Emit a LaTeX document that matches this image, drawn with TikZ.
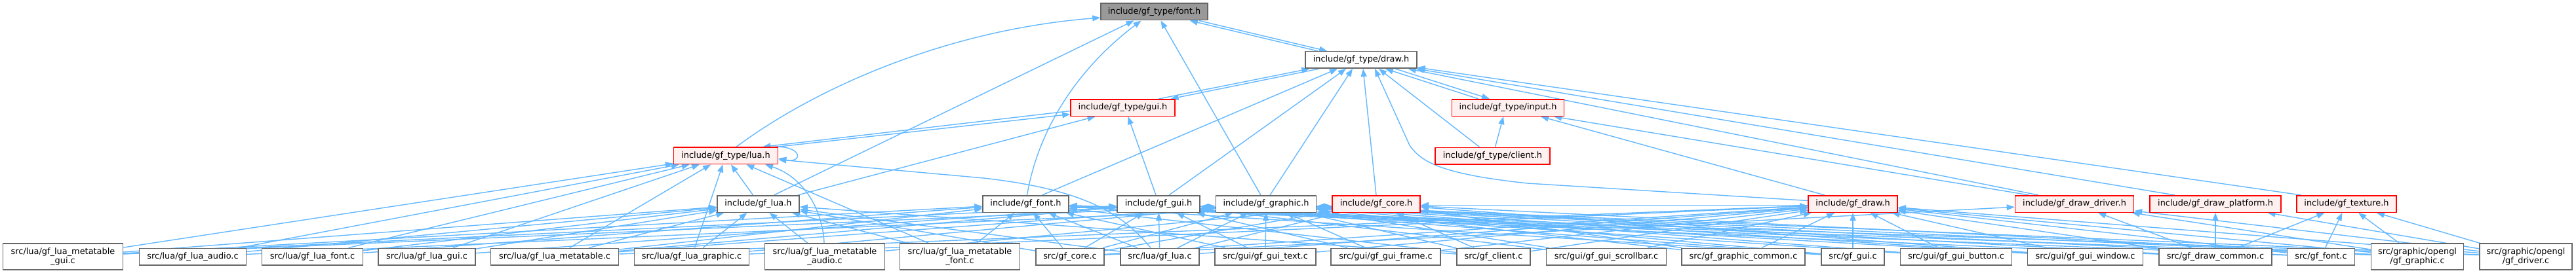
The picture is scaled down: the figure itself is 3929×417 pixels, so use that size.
\documentclass[tikz,border=0pt]{standalone}
\usepackage{fontspec}
\setmainfont{DejaVu Sans}
\usetikzlibrary{arrows.meta}
\pgfdeclarelayer{bg}
\pgfdeclarelayer{edges}
\pgfsetlayers{bg,edges,main}
\definecolor{edgec}{HTML}{63B8FF}
\definecolor{redb}{HTML}{FF0000}
\definecolor{redf}{HTML}{FFF0F0}
\definecolor{greyb}{HTML}{666666}
\definecolor{topf}{HTML}{999999}
\begin{document}
\begin{tikzpicture}[x=1pt,y=-1pt,
  box/.style={draw=greyb, fill=white, line width=1.5pt, inner sep=0pt,
    minimum height=25.5pt, font=\fontsize{12.9pt}{14pt}\selectfont, text=black},
  redbox/.style={box, draw=redb, fill=redf},
  topbox/.style={box, fill=topf},
  twobox/.style={box, minimum height=40pt, align=center},
  edge/.style={draw=edgec, line width=1.4pt, -{Triangle[length=12pt,width=9pt]}}]
\begin{pgfonlayer}{bg}
\fill[white] (0,0) rectangle (3929,417);
\end{pgfonlayer}
\useasboundingbox (0,0) rectangle (3929,417);
% upper nodes
\node[topbox, minimum width=163pt] (TFont) at (1760.5,18) {include/gf\_type/font.h};
\node[box, minimum width=170pt] (TDraw) at (2076,91.5) {include/gf\_type/draw.h};
\node[redbox, minimum width=159pt] (TGui) at (1712.5,164.5) {include/gf\_type/gui.h};
\node[redbox, minimum width=171pt] (TInput) at (2300,164.5) {include/gf\_type/input.h};
\node[redbox, minimum width=175pt] (TClient) at (2276.5,238) {include/gf\_type/client.h};
\node[redbox, minimum width=159pt] (TLua) at (1107,237.8) {include/gf\_type/lua.h};
% middle nodes
\node[box, minimum width=125pt] (MLua) at (1156.5,311.5) {include/gf\_lua.h};
\node[box, minimum width=131pt] (MFont) at (1564.5,311.5) {include/gf\_font.h};
\node[box, minimum width=126pt] (MGui) at (1767,311.5) {include/gf\_gui.h};
\node[box, minimum width=153pt] (MGraphic) at (1931,311.5) {include/gf\_graphic.h};
\node[redbox, minimum width=134pt] (MCore) at (2099,311.5) {include/gf\_core.h};
\node[redbox, minimum width=136pt] (MDraw) at (2826,311.5) {include/gf\_draw.h};
\node[redbox, minimum width=181pt] (MDDriver) at (3164,311.5) {include/gf\_draw\_driver.h};
\node[redbox, minimum width=200pt] (MDPlat) at (3379,311.5) {include/gf\_draw\_platform.h};
\node[redbox, minimum width=152pt] (MTex) at (3579,311.5) {include/gf\_texture.h};
% bottom nodes
\node[twobox, minimum width=183pt] (B1) at (96,392) {src/lua/gf\_lua\_metatable\\\_gui.c};
\node[box, minimum width=163pt] (B2) at (294,392) {src/lua/gf\_lua\_audio.c};
\node[box, minimum width=154pt] (B3) at (476.5,392) {src/lua/gf\_lua\_font.c};
\node[box, minimum width=148pt] (B4) at (651,392) {src/lua/gf\_lua\_gui.c};
\node[box, minimum width=195pt] (B5) at (846,392) {src/lua/gf\_lua\_metatable.c};
\node[box, minimum width=175pt] (B6) at (1055,392) {src/lua/gf\_lua\_graphic.c};
\node[twobox, minimum width=183pt] (B7) at (1258,392) {src/lua/gf\_lua\_metatable\\\_audio.c};
\node[twobox, minimum width=183pt] (B8) at (1464,392) {src/lua/gf\_lua\_metatable\\\_font.c};
\node[box, minimum width=104pt] (B9) at (1632,392) {src/gf\_core.c};
\node[box, minimum width=120pt] (B10) at (1769,392) {src/lua/gf\_lua.c};
\node[box, minimum width=154pt] (B11) at (1930,392) {src/gui/gf\_gui\_text.c};
\node[box, minimum width=167pt] (B12) at (2113.5,392) {src/gui/gf\_gui\_frame.c};
\node[box, minimum width=112pt] (B13) at (2278,392) {src/gf\_client.c};
\node[box, minimum width=183pt] (B14) at (2450,392) {src/gui/gf\_gui\_scrollbar.c};
\node[box, minimum width=188pt] (B15) at (2659,392) {src/gf\_graphic\_common.c};
\node[box, minimum width=96pt] (B16) at (2826,392) {src/gf\_gui.c};
\node[box, minimum width=170pt] (B17) at (2983.5,392) {src/gui/gf\_gui\_button.c};
\node[box, minimum width=176pt] (B18) at (3180.5,392) {src/gui/gf\_gui\_window.c};
\node[box, minimum width=172pt] (B19) at (3379,392) {src/gf\_draw\_common.c};
\node[box, minimum width=103pt] (B20) at (3540,392) {src/gf\_font.c};
\node[twobox, minimum width=141pt] (B21) at (3687,392) {src/graphic/opengl\\/gf\_graphic.c};
\node[twobox, minimum width=141pt] (B22) at (3852.5,392) {src/graphic/opengl\\/gf\_driver.c};

\begin{pgfonlayer}{edges}
% top structure
\draw[edge] ([xshift=20pt]TDraw.north west) -- ([xshift=-28pt]TFont.south east);
\draw[edge] ([xshift=-14pt]TFont.south east) -- ([xshift=34pt]TDraw.north west);
\draw[edge] ([xshift=55pt]TGui.north) -- ([xshift=7pt]TDraw.south west);
\draw[edge] ([xshift=22pt]TDraw.south west) -- ([xshift=73pt]TGui.north);
\draw[edge] ([xshift=-45pt]TInput.north) -- ([xshift=37pt]TDraw.south);
\draw[edge] ([xshift=52pt]TDraw.south) -- ([xshift=-28pt]TInput.north);
\draw[edge] ([xshift=-20pt]TClient.north) -- ([xshift=27pt]TDraw.south);
\draw[edge] ([xshift=4pt]TClient.north) -- ([xshift=-7pt]TInput.south);
\draw[edge] (MCore.north) -- ([xshift=3pt]TDraw.south);
\draw[edge] ([xshift=25pt]MFont.north) -- ([xshift=-36pt]TDraw.south);
\draw[edge] ([xshift=16pt]MGui.north) -- ([xshift=-23pt]TDraw.south);
\draw[edge] ([xshift=6pt]MGraphic.north) -- ([xshift=-13pt]TDraw.south);
\draw[edge] ([xshift=-8pt]MGraphic.north) -- ([xshift=10pt]TFont.south);
\draw[edge] ([xshift=24pt]MLua.north) -- ([xshift=-31pt]TFont.south);
\draw[edge] ([xshift=2pt]MFont.north) .. controls (1585,190) and (1650,100) .. ([xshift=-20pt]TFont.south);
\draw[edge] ([xshift=16pt]TLua.north) .. controls (1250,130) and (1450,45) .. ([yshift=-9pt]TFont.west);
\draw[edge] ([xshift=-1pt]B7.north) .. controls (1255,320) and (1225,270) .. ([xshift=60pt]TLua.south);
\draw[edge] ([xshift=-14pt]B10.north) .. controls (1715,330) and (1660,290) .. (1500,272) -- ([yshift=-6pt]TLua.east);
\draw[edge] ([yshift=5pt]MDraw.west) -- (2330,280) .. controls (2200,266) and (2168,248) .. (2150,222) -- ([xshift=21pt]TDraw.south);
\draw[edge] ([xshift=-8pt]TLua.north east) .. controls (1225,222) and (1225,250) .. ([yshift=-4pt]TLua.east);
\draw[edge] ([xshift=-2pt]TLua.north east) -- ([yshift=-10pt]TGui.west);
\draw[edge] ([yshift=-5pt]TGui.west) -- ([xshift=-24pt]TLua.north east);
\draw[edge] ([xshift=-8pt]MLua.north) -- ([xshift=8pt]TLua.south);
\draw[edge] ([xshift=-3pt]MLua.north east) -- ([xshift=-42pt]TGui.south);
\draw[edge] ([xshift=-4pt]MGui.north) -- ([xshift=8pt]TGui.south);
\draw[edge] ([xshift=-69pt]MTex.north) -- ([yshift=2pt]TDraw.south east);
\draw[edge] ([xshift=-62pt]MDPlat.north) -- ([xshift=-2pt]TDraw.south east);
\draw[edge] ([xshift=-55pt]MDDriver.north) -- ([xshift=-14pt]TDraw.south east);
\draw[edge] ([xshift=-69pt]MDDriver.north) -- ([xshift=70pt]TInput.south);
\draw[edge] ([xshift=-43pt]MDraw.north) -- ([xshift=50pt]TInput.south);
\draw[edge] ([yshift=-2pt]MDraw.west) -- ([yshift=-2pt]MCore.east);
% bottom row to headers
\foreach \s/\t in {B1/TLua,B1/MLua,B1/MGui,B1/MFont,B1/MGraphic,
  B2/TLua,B2/MLua,B2/MCore,
  B3/TLua,B3/MLua,B3/MFont,
  B4/TLua,B4/MLua,B4/MGui,
  B5/TLua,B5/MLua,B5/MFont,B5/MGui,B5/MGraphic,B5/MDraw,
  B6/TLua,B6/MLua,B6/MGraphic,B6/MDraw,
  B7/MLua,B7/MCore,
  B8/TLua,B8/MLua,B8/MFont,
  B9/MLua,B9/MFont,B9/MGui,B9/MGraphic,B9/MCore,B9/MDraw,B9/MDDriver,
  B10/MLua,B10/MFont,B10/MGui,B10/MGraphic,B10/MCore,B10/MDraw,
  B11/MGui,B11/MFont,B11/MGraphic,B11/MDraw,
  B12/MGui,B12/MGraphic,B12/MDraw,
  B13/MCore,B13/MDraw,B13/MFont,B13/MGraphic,B13/MLua,
  B14/MGui,B14/MDraw,B14/MGraphic,
  B15/MGraphic,B15/MDraw,B15/MCore,
  B16/MGui,B16/MDraw,B16/MGraphic,B16/MFont,
  B17/MGui,B17/MDraw,B17/MGraphic,
  B18/MGui,B18/MDraw,B18/MGraphic,B18/MCore,
  B19/MDraw,B19/MDDriver,B19/MDPlat,B19/MTex,B19/MGraphic,B19/MFont,
  B20/MFont,B20/MTex,B20/MDraw,B20/MGraphic,
  B21/MGraphic,B21/MDDriver,B21/MDraw,B21/MTex,B21/MCore,B21/MFont,
  B22/MDDriver,B22/MDPlat,B22/MTex,B22/MDraw,B22/MGraphic,B22/MFont}
  \draw[edge] (\s) -- (\t);
\end{pgfonlayer}
\end{tikzpicture}
\end{document}
